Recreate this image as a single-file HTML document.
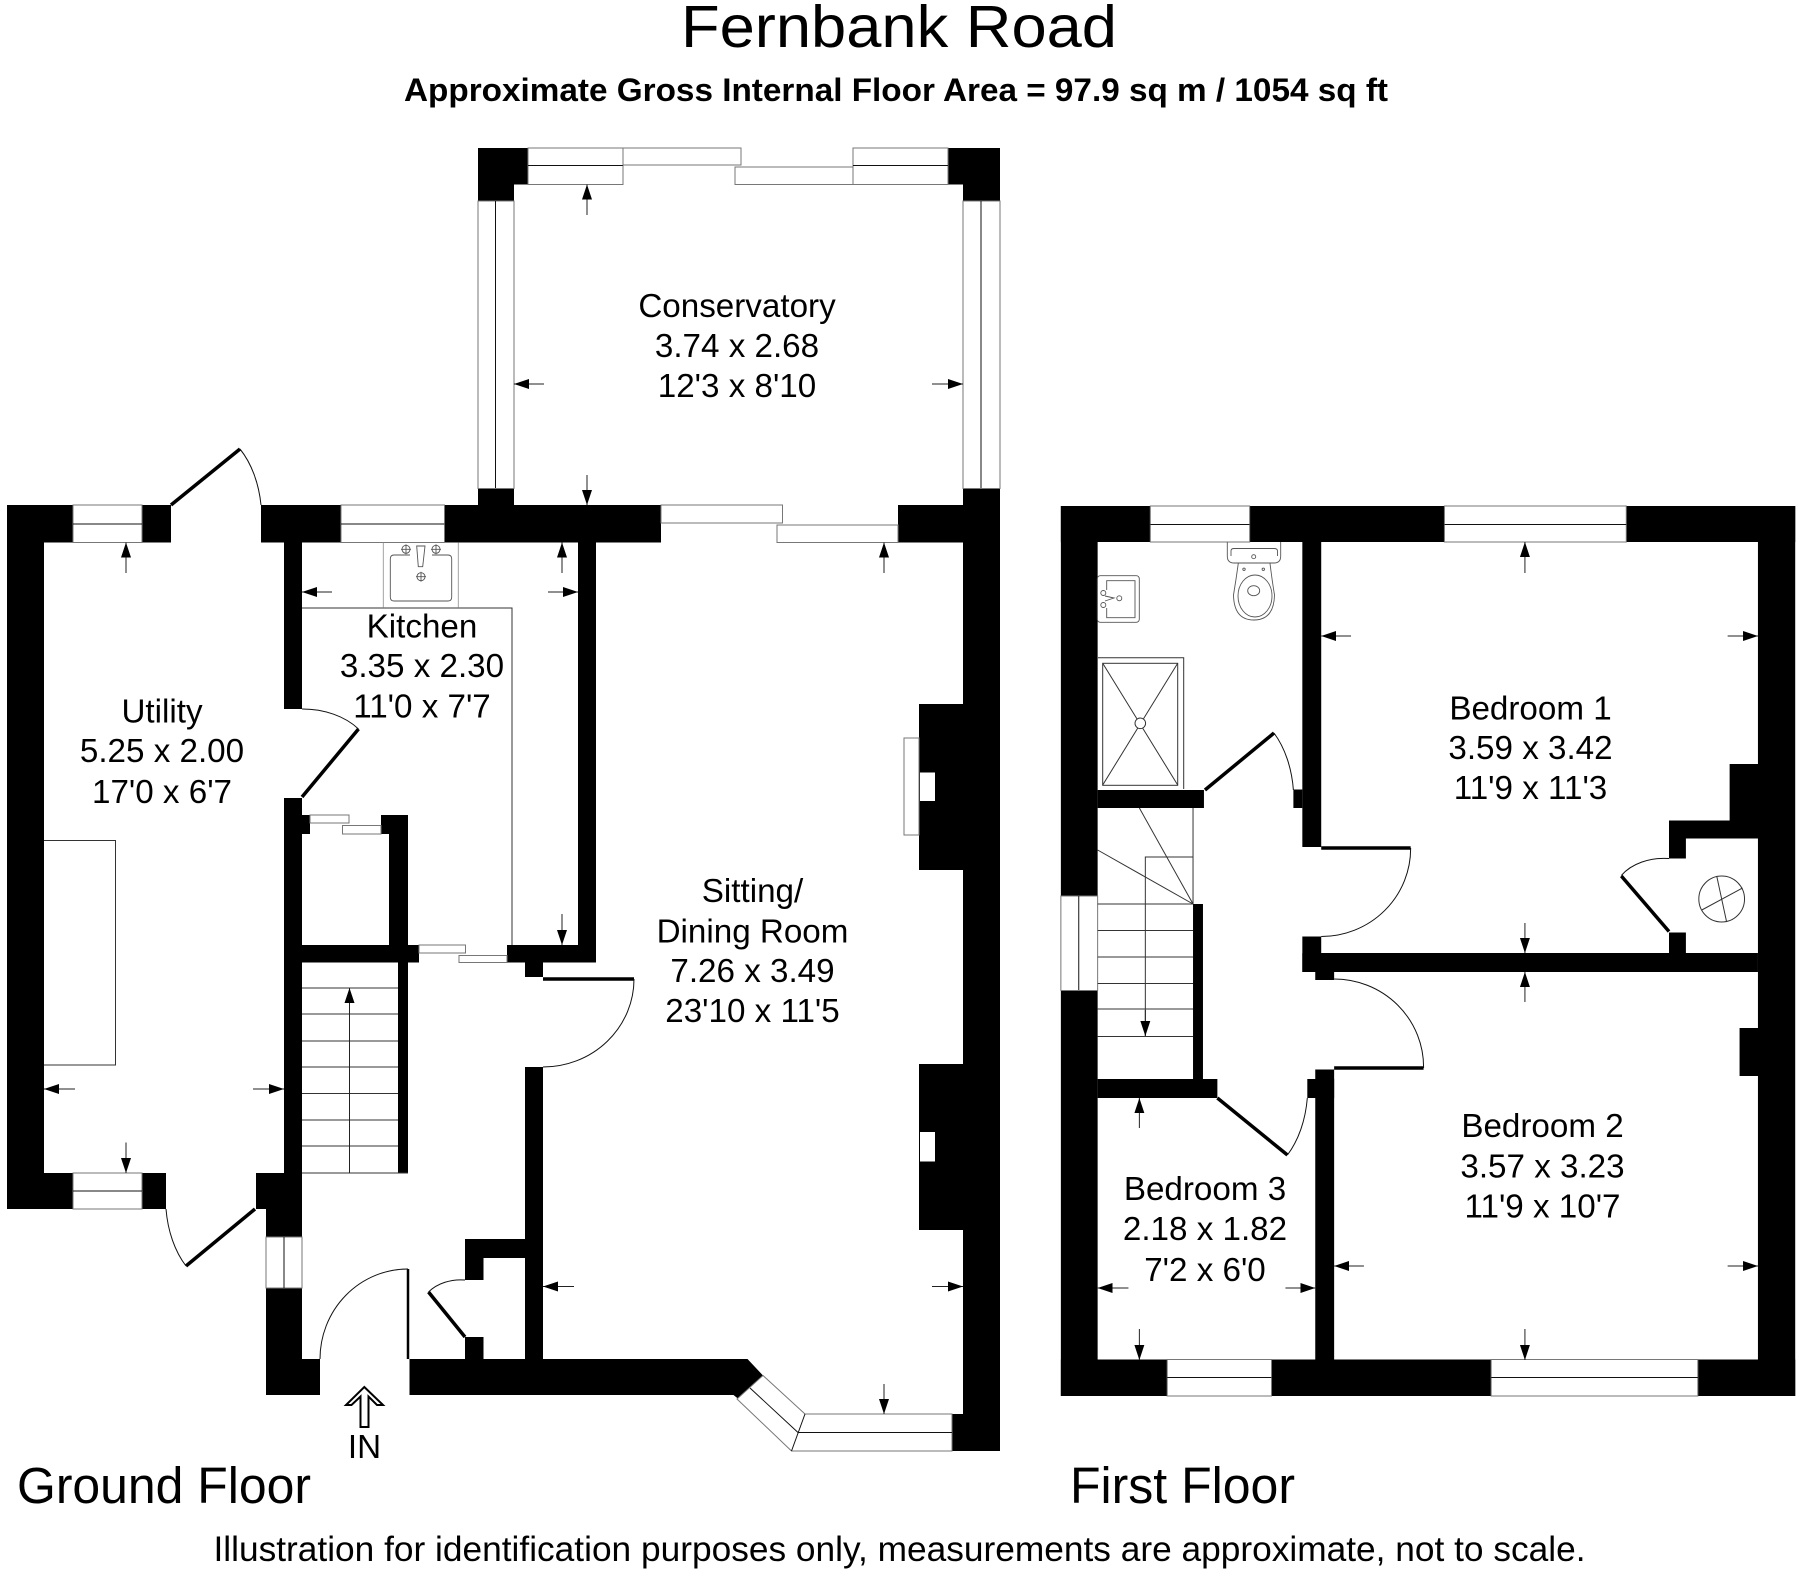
<!DOCTYPE html>
<html><head><meta charset="utf-8"><title>Fernbank Road</title>
<style>html,body{margin:0;padding:0;background:#fff}svg{display:block}text{font-family:"Liberation Sans",sans-serif;fill:#000}.l{font-size:33.2px;text-anchor:middle}.f{font-size:51px}.w rect,.w polygon{fill:#fff;stroke:#777;stroke-width:1}.w line{stroke:#111;stroke-width:1}.t{fill:none;stroke:#333;stroke-width:1}.x{fill:none;stroke:#555;stroke-width:.9}.d{stroke:#000;stroke-width:3.5;fill:none}.a{fill:none;stroke:#111;stroke-width:1}.h line{stroke:#222;stroke-width:1;marker-end:url(#m)}</style></head><body>
<svg width="1800" height="1576" viewBox="0 0 1800 1576" xmlns="http://www.w3.org/2000/svg">
<defs><marker id="m" markerUnits="userSpaceOnUse" markerWidth="16" markerHeight="12" refX="15" refY="5" orient="auto"><path d="M0 0L15 5L0 10Z" fill="#000"/></marker></defs>
<text x="899" y="47" font-size="59" text-anchor="middle" textLength="436" lengthAdjust="spacingAndGlyphs">Fernbank Road</text>
<text x="404" y="101" font-size="32" font-weight="bold" textLength="984" lengthAdjust="spacingAndGlyphs">Approximate Gross Internal Floor Area = 97.9 sq m / 1054 sq ft</text>
<!-- ground walls -->
<g fill="#000">
<path d="M478 148H528V184.500H514V201H478Z"/>
<path d="M948 148H1000V201H963V184.500H948Z"/>
<rect x="478" y="488.500" width="36" height="20"/>
<rect x="963" y="488" width="37" height="963"/>
<rect x="7" y="505" width="66" height="37.500"/>
<rect x="142" y="505" width="29" height="37.500"/>
<rect x="7" y="505" width="37" height="704"/>
<rect x="261" y="505" width="80" height="37.500"/>
<rect x="444.500" y="505" width="216.500" height="37.500"/>
<rect x="898" y="505" width="65" height="37.500"/>
<rect x="284" y="505" width="18" height="204"/>
<rect x="578" y="505" width="18" height="457.500"/>
<rect x="919" y="704" width="44" height="166"/>
<rect x="919" y="1064" width="44" height="166"/>
<rect x="284" y="798" width="18" height="375"/>
<rect x="302" y="815" width="8" height="19"/>
<rect x="381" y="815" width="27" height="19"/>
<rect x="389" y="815" width="19" height="130"/>
<rect x="302" y="945" width="117" height="17.500"/>
<rect x="398" y="945" width="10" height="228"/>
<rect x="507" y="945" width="89" height="17.500"/>
<rect x="525" y="945" width="18" height="32"/>
<rect x="525" y="1067" width="18" height="292"/>
<rect x="7" y="1173" width="66" height="36"/>
<rect x="142" y="1173" width="24" height="36"/>
<rect x="256" y="1173" width="46" height="36"/>
<rect x="266" y="1173" width="36" height="64"/>
<rect x="266" y="1288" width="36" height="107"/>
<rect x="266" y="1359" width="54" height="36"/>
<path d="M409.500 1359H747.500L763 1375.500L741 1401L733.500 1395H409.500Z"/>
<rect x="465" y="1239" width="60" height="19"/>
<rect x="465" y="1239" width="18.500" height="41"/>
<rect x="465" y="1337" width="18.500" height="22"/>
<rect x="952" y="1414" width="48" height="37"/>
</g>
<g fill="#fff" stroke="#777"><rect x="904" y="738" width="15" height="97"/><rect x="920" y="772.500" width="15" height="28.500" stroke="none"/><rect x="920" y="1132" width="15" height="29.500" stroke="none"/></g>
<!-- ground windows -->
<g class="w">
<rect x="528" y="148" width="95" height="36.500"/><line x1="528" y1="165.500" x2="623" y2="165.500"/>
<rect x="623" y="148" width="118" height="17"/><rect x="735" y="167" width="118" height="17.500"/>
<rect x="853" y="148" width="95" height="36.500"/><line x1="853" y1="165.500" x2="948" y2="165.500"/>
<rect x="478" y="201" width="36" height="287.500"/><line x1="495.500" y1="201" x2="495.500" y2="488"/>
<rect x="963" y="201" width="37" height="287.500"/><line x1="981" y1="201" x2="981" y2="488"/>
<rect x="73" y="505" width="69" height="37.500"/><line x1="73" y1="524" x2="142" y2="524"/>
<rect x="341" y="505" width="103.500" height="37.500"/><line x1="341" y1="524" x2="444.500" y2="524"/>
<rect x="661" y="505" width="121.500" height="18"/><rect x="777" y="525" width="121" height="17.500"/>
<rect x="310" y="815" width="39" height="8"/><rect x="342.500" y="825.500" width="38.500" height="8.500"/>
<rect x="419" y="945" width="46.500" height="8"/><rect x="459" y="955.500" width="48" height="7"/>
<rect x="73" y="1173" width="69" height="36"/><line x1="73" y1="1191" x2="142" y2="1191"/>
<rect x="266" y="1237" width="36" height="51"/><line x1="284" y1="1237" x2="284" y2="1288"/>
<polygon points="763,1375.500 805,1414 952,1414 952,1451 791.500,1451 737,1399"/>
<polyline points="750,1388 798,1432.500 952,1432.500" fill="none" stroke="#111"/>
<line x1="805" y1="1414" x2="791.500" y2="1451" stroke="#777"/>
</g>
<!-- ground interior lines -->
<g class="t">
<path d="M302 608H512V945"/>
<path d="M44 840.500H115.500V1065H44"/>
<path d="M302 988H398M302 1014H398M302 1041H398M302 1067H398M302 1093.500H398M302 1120H398M302 1146H398M302 1173H408"/>
</g>
<!-- kitchen sink -->
<g class="x">
<path d="M383.300 542.700V607.300M458.300 542.700V607.300" stroke="#999"/>
<path d="M410 555H394Q390.300 555 390.300 559V597Q390.300 601 394 601H448Q451.700 601 451.700 597V559Q451.700 555 448 555H432"/>
<path d="M416.700 546H425L422.700 566.700H418.300Z"/>
<circle cx="406" cy="549.300" r="4"/><circle cx="436" cy="549.300" r="4"/><circle cx="421" cy="576.700" r="4"/>
<path d="M401 549.300H411M406 544.300V554.300M431 549.300H441M436 544.300V554.300M416 576.700H426M421 571.700V581.700"/>
</g>
<!-- ground doors -->
<g class="d">
<path d="M171 505L240 449"/><path d="M302 797L358.500 729"/><path d="M543 979H634"/>
<path d="M255 1209L186 1266"/><path d="M408 1269V1359" stroke-width="2.500"/><path d="M428.500 1292L465 1337"/>
</g>
<g class="a">
<path d="M240 449A60 90 0 0 1 261 505"/><path d="M302 709A70 50 0 0 1 358.500 729"/>
<path d="M634 979A91 88 0 0 1 543 1067"/><path d="M186 1266A60 90 0 0 1 166 1209"/>
<path d="M408 1269A88 90 0 0 0 320 1359"/><path d="M428.500 1292A40 30 0 0 1 465 1280"/>
</g>
<path d="M364.300 1387L383 1405H377L368.500 1396.500V1427H360.500V1396.500L351.500 1405H346Z" fill="#fff" stroke="#000" stroke-width="2"/>
<!-- first floor structure -->
<g transform="translate(1040 0) scale(.9937 1) translate(-1040 0)">
<g fill="#000">
<rect x="1061" y="506" width="90" height="36"/>
<rect x="1251" y="506" width="196" height="36"/>
<rect x="1630" y="506" width="170" height="36"/>
<rect x="1061" y="506" width="37" height="390"/>
<rect x="1061" y="990.500" width="37" height="405.500"/>
<rect x="1762.500" y="506" width="37.500" height="890"/>
<rect x="1304" y="542" width="19" height="305"/>
<rect x="1295" y="789.500" width="9" height="18.500"/>
<rect x="1098" y="790" width="107" height="18"/>
<rect x="1194" y="904" width="10" height="175"/>
<rect x="1098" y="1079" width="120.500" height="19"/>
<rect x="1309" y="1079" width="27" height="19"/>
<rect x="1317" y="1069.500" width="19" height="290"/>
<rect x="1304" y="953" width="458.500" height="19"/>
<rect x="1304" y="936.500" width="19" height="35.500"/>
<rect x="1317" y="972" width="19" height="8"/>
<rect x="1061" y="1359.500" width="107" height="36.500"/>
<rect x="1273" y="1359.500" width="221" height="36.500"/>
<rect x="1702" y="1359.500" width="98" height="36.500"/>
<rect x="1734" y="764" width="29" height="74.500"/>
<rect x="1673" y="820.500" width="89.500" height="18"/>
<rect x="1673" y="820.500" width="17" height="38"/>
<rect x="1673" y="932.500" width="17" height="20.500"/>
<rect x="1744" y="1028" width="19" height="48"/>
</g>
<g class="w">
<rect x="1151" y="506" width="100" height="36"/><line x1="1151" y1="524.500" x2="1251" y2="524.500"/>
<rect x="1447" y="506" width="183" height="36"/><line x1="1447" y1="524.500" x2="1630" y2="524.500"/>
<rect x="1061" y="896" width="37" height="94.500"/><line x1="1079" y1="896" x2="1079" y2="990"/>
<rect x="1168" y="1359.500" width="105" height="36.500"/><line x1="1168" y1="1377.500" x2="1273" y2="1377.500"/>
<rect x="1494" y="1359.500" width="208" height="36.500"/><line x1="1494" y1="1377.500" x2="1702" y2="1377.500"/>
</g>
<g class="t">
<path d="M1194 808V904M1140 808L1194 904M1098 850L1194 904M1194 857H1146V1036"/>
<path d="M1098 904H1194M1098 930.500H1194M1098 957H1194M1098 983.500H1194M1098 1009H1194M1098 1036.500H1194"/>
<ellipse cx="1726" cy="899" rx="23" ry="23"/>
<path d="M1706 910L1747 888M1721 876L1731 922"/>
</g>
<g class="d">
<path d="M1206 790L1275.500 733"/><path d="M1323 848H1413"/><path d="M1625 876L1673 931.500"/>
<path d="M1218.500 1098L1289 1155"/><path d="M1336 1068H1426"/>
</g>
<g class="a">
<path d="M1275.500 733A60 90 0 0 1 1295 790"/><path d="M1413 848A90 88 0 0 1 1323 936.500"/>
<path d="M1625 875.500A50 35 0 0 1 1673 858.500"/><path d="M1289 1155A60 90 0 0 0 1309 1098"/>
<path d="M1426 1068A90 88 0 0 0 1336 979"/>
</g>
</g>
<!-- first floor fixtures -->
<g class="t">
<path d="M1098 657.700H1183.700V789"/><rect x="1102.700" y="663.300" width="75" height="122"/>
<path d="M1102.700 663.300L1177.700 785M1177.700 663.300L1102.700 785"/>
<circle cx="1140.300" cy="723.300" r="5.300" fill="#fff"/>
</g>
<g class="x">
<rect x="1097.300" y="575.700" width="42" height="46.600" rx="3"/>
<path d="M1106.700 590V580.700H1135V617.700H1106.700V608"/>
<circle cx="1103.300" cy="593" r="2.500"/><circle cx="1103.300" cy="605" r="2.500"/><circle cx="1119.300" cy="598.300" r="2.500"/>
<path d="M1105 596L1114 598L1105 601"/>
<path d="M1227.300 542V556Q1227.300 563 1234 563H1274Q1280.700 563 1280.700 556V542"/>
<path d="M1231 556V551Q1231 548.500 1234 548.500H1274Q1277.500 548.500 1277.500 551V556"/>
<circle cx="1253.700" cy="556.700" r="2"/>
<path d="M1238.300 563.300Q1236 580 1233.500 595Q1234 620 1253.700 620Q1274 620 1274.500 595Q1272 580 1270 563.300"/>
<ellipse cx="1255" cy="596" rx="17" ry="21"/>
<ellipse cx="1253.700" cy="590.700" rx="6" ry="5"/>
<circle cx="1244" cy="569.300" r="1.200"/><circle cx="1263.300" cy="569.300" r="1.200"/>
</g>
<!-- arrows -->
<g class="h">
<line x1="587" y1="215" x2="587" y2="184.500"/><line x1="587" y1="475" x2="587" y2="505"/>
<line x1="544" y1="384" x2="514" y2="384"/><line x1="932" y1="384" x2="963" y2="384"/>
<line x1="126" y1="573" x2="126" y2="542.500"/><line x1="562" y1="573" x2="562" y2="542.500"/><line x1="884" y1="573" x2="884" y2="542.500"/>
<line x1="332" y1="592" x2="302" y2="592"/><line x1="548" y1="592" x2="578" y2="592"/>
<line x1="75" y1="1089" x2="44" y2="1089"/><line x1="253" y1="1089" x2="284" y2="1089"/>
<line x1="126" y1="1142.500" x2="126" y2="1173"/><line x1="562" y1="914" x2="562" y2="945"/>
<line x1="349.500" y1="1173" x2="349.500" y2="988"/>
<line x1="574" y1="1286.500" x2="543" y2="1286.500"/><line x1="932" y1="1286.500" x2="963" y2="1286.500"/>
<line x1="884" y1="1384" x2="884" y2="1414"/>
</g>
<g class="h" transform="translate(1040 0) scale(.9937 1) translate(-1040 0)">
<line x1="1528" y1="573" x2="1528" y2="542"/><line x1="1353" y1="636" x2="1323" y2="636"/><line x1="1732" y1="636" x2="1762.500" y2="636"/>
<line x1="1528" y1="923" x2="1528" y2="953"/><line x1="1528" y1="1002" x2="1528" y2="972"/>
<line x1="1366" y1="1266" x2="1336" y2="1266"/><line x1="1732" y1="1266" x2="1762.500" y2="1266"/><line x1="1528" y1="1329" x2="1528" y2="1360"/>
<line x1="1140" y1="1128" x2="1140" y2="1098"/><line x1="1129" y1="1288" x2="1098" y2="1288"/><line x1="1287" y1="1288" x2="1317" y2="1288"/><line x1="1140" y1="1329" x2="1140" y2="1360"/>
<line x1="1146" y1="1010" x2="1146" y2="1036"/>
</g>
<!-- labels -->
<g class="l">
<text class="l" x="737" y="317">Conservatory</text><text class="l" x="737" y="357">3.74 x 2.68</text><text class="l" x="737" y="397">12'3 x 8'10</text>
<text class="l" x="422" y="637.500">Kitchen</text><text class="l" x="422" y="677">3.35 x 2.30</text><text class="l" x="422" y="717.500">11'0 x 7'7</text>
<text class="l" x="162" y="722.500">Utility</text><text class="l" x="162" y="762">5.25 x 2.00</text><text class="l" x="162" y="803">17'0 x 6'7</text>
<text class="l" x="752.500" y="902">Sitting/</text><text class="l" x="752.500" y="942.500">Dining Room</text><text class="l" x="752.500" y="982">7.26 x 3.49</text><text class="l" x="752.500" y="1022">23'10 x 11'5</text>
<text class="l" x="1530.500" y="719.500">Bedroom 1</text><text class="l" x="1530.500" y="759">3.59 x 3.42</text><text class="l" x="1530.500" y="799">11'9 x 11'3</text>
<text class="l" x="1542.500" y="1137">Bedroom 2</text><text class="l" x="1542.500" y="1177.500">3.57 x 3.23</text><text class="l" x="1542.500" y="1217.500">11'9 x 10'7</text>
<text class="l" x="1205" y="1200">Bedroom 3</text><text class="l" x="1205" y="1240">2.18 x 1.82</text><text class="l" x="1205" y="1281">7'2 x 6'0</text>
<text class="l" x="364.500" y="1458">IN</text>
</g>
<text class="f" x="17" y="1503" textLength="294" lengthAdjust="spacingAndGlyphs">Ground Floor</text>
<text class="f" x="1070" y="1503" textLength="225" lengthAdjust="spacingAndGlyphs">First Floor</text>
<text x="213.500" y="1561" font-size="35" textLength="1372" lengthAdjust="spacingAndGlyphs">Illustration for identification purposes only, measurements are approximate, not to scale.</text>
</svg>
</body></html>
